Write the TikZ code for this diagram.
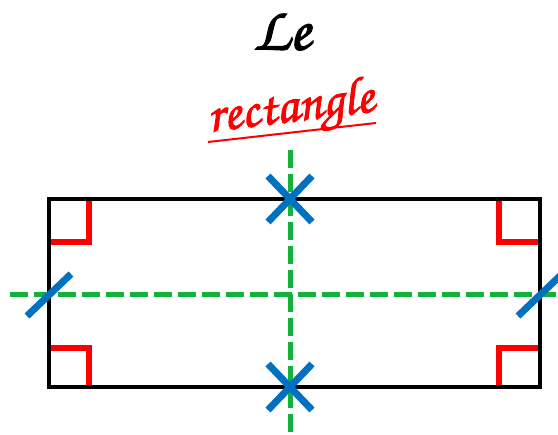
\documentclass[tikz,border=0pt]{standalone}
\usepackage[T1,TU]{fontenc}
\usetikzlibrary{calc}
\definecolor{vertaxe}{RGB}{20,178,60}
\definecolor{bleumarque}{RGB}{0,112,192}
\newcommand{\ecriture}{\fontencoding{T1}\fontfamily{pzc}\fontseries{m}\fontshape{it}\selectfont}
\newcommand{\epais}[2]{\special{pdf:literal 2 Tr #1 w}#2\special{pdf:literal 0 Tr}}
\tikzset{cadre/.style={rectangle,draw=black,line width=4pt,outer sep=0pt,inner sep=0pt,minimum width=491pt,minimum height=188pt},
  axe/.style={draw=vertaxe,line width=5pt,dash pattern=on 18pt off 6pt},
  coin/.style={draw=red,line width=6pt},
  marque/.style={draw=bleumarque,line width=7pt}}

\begin{document}
\begin{tikzpicture}[x=1pt,y=-1pt]
\useasboundingbox (0,0) rectangle (558,435);
\node (titre) at (282,31) {\ecriture\fontsize{62}{66}\selectfont\epais{1.2}{Le}};
\node[red, rotate=7] (nom) at (291,111) {\ecriture\fontsize{53}{56}\selectfont\epais{0.9}{rectangle}};
\coordinate (souligneA) at (208,142);
\coordinate (souligneB) at (376,123);
\draw[red, line width=2pt] (souligneA) -- (souligneB);
% angles droits
\coordinate (no) at (49,199);
\coordinate (ne) at (540,199);
\coordinate (so) at (49,387);
\coordinate (se) at (540,387);
\draw[coin] ($(no)+(40,1)$) |- ($(no)+(1,43)$);
\draw[coin] ($(so)+(40,-1)$) |- ($(so)+(1,-39)$);
\draw[coin] ($(ne)+(-41,1)$) |- ($(ne)+(-1,43)$);
\draw[coin] ($(se)+(-41,-1)$) |- ($(se)+(-1,-39)$);
\node[cadre] (rect) at (294.5,293) {};
% axes de symetrie
\coordinate (axeH) at (290,150);
\coordinate (axeB) at (290,435);
\coordinate (axeG) at (10,295);
\coordinate (axeD) at (558,295);
\draw[axe] (axeH) -- (axeB);
\draw[axe] (axeG) -- (axeD);
% codages
\coordinate (milH) at (axeH |- rect.north);
\coordinate (milB) at (axeH |- rect.south);
\coordinate (milG) at (rect.west |- axeG);
\coordinate (milD) at (rect.east |- axeG);
\foreach \m in {milH,milB}{
  \draw[marque] ($(\m)+(-22,-23)$) -- ($(\m)+(22,23)$);
  \draw[marque] ($(\m)+(-22,23)$) -- ($(\m)+(22,-23)$);
}
\foreach \m in {milG,milD}
  \draw[marque] ($(\m)+(-22,21)$) -- ($(\m)+(22,-21)$);
\end{tikzpicture}
\end{document}
